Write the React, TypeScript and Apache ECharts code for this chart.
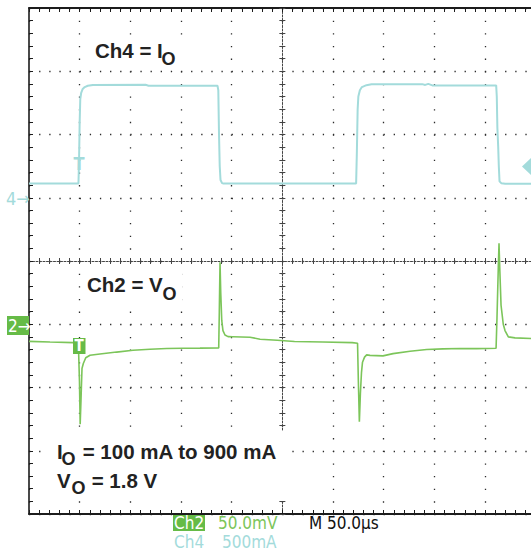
import React, { useEffect, useRef } from "react";
import * as echarts from "echarts";

// Horizontal: 50 µs/div, 10 divisions
const timeMin = 0;
const timeMax = 500;
const timeStep = 50;
// Ch4 (current): 500 mA/div, ground marker one division above centre
const ch4Min = -2500;
const ch4Max = 1500;
const ch4Step = 500;
// Ch2 (voltage, AC): 50 mV/div, ground marker one division below centre
const ch2Min = -150;
const ch2Max = 250;
const ch2Step = 50;

// Ch4 = IO (mA) vs time (µs)
const ch4Time = [
  0, 48.8, 49.4, 50.0, 50.6, 51.5, 53, 55, 58, 63, 115, 118, 186, 186.8, 187.5, 188.2, 189, 190.5, 192,
  322.8, 323.5, 324.3, 325, 326.5, 328.5, 333, 338, 388, 391, 394, 398, 461, 461.6, 462.2, 463, 463.6,
  464.3, 466, 470, 500,
];
const ch4Current = [
  112, 112, 300, 600, 780, 830, 860, 875, 885, 892, 893, 886, 886, 850, 500, 250, 140, 116, 112,
  112, 350, 700, 800, 850, 875, 890, 898, 898, 892, 900, 888, 888, 800, 550, 400, 250,
  130, 115, 110, 110,
];

// Ch2 = VO deviation (mV) vs time (µs)
const ch2Time = [
  0, 20.7, 43.4, 48.7, 49.8, 50.5, 51.3, 52.3, 53.6, 56, 60.2, 70, 86.5, 102.6, 119.4, 135.9, 152, 168.7,
  187.2, 187.8, 188.5, 189.2, 190.2, 191.4, 193.4, 196.4, 201.3, 218.1, 228, 245, 262, 290, 319,
  324.2, 325, 326, 327, 328.1, 329.1, 331.1, 333.2, 336.5, 349.3, 359.2, 376, 392.4, 408.5, 425.3, 441.8,
  460.9, 461.8, 463.1, 463.8, 464.5, 465.8, 468, 469.7, 473, 479.6, 495.4, 500,
];
const ch2Voltage = [
  -13.5, -14.0, -14.5, -14.7, -45, -79, -60, -35, -31, -26.5, -24.5, -23.5, -22, -20.6, -19.8, -19.2, -19.0, -18.9,
  -18.7, 10, 49, 25, 3, -5, -8.5, -9.8, -9.9, -10.3, -11.8, -12.6, -13.6, -14.0, -14.5,
  -15, -45, -77, -55, -38, -30, -26, -24.2, -24.6, -25, -23.2, -21.3, -20.0, -19.5, -19.2, -19.3,
  -19, 5, 45, 64, 45, 15, 0, -5, -10, -10.8, -11.3, -11.4,
];

const CYAN = "#a3dbdb";
const GREEN = "#7cc55a";
const GREEN_BOX = "#66bb47";
const DOT = "#2b2b2b";
const BORDER = "#1c1c1c";
const BOLD = "Liberation Sans, Arial, Helvetica, sans-serif";
const SCOPE = "'DejaVu Sans Condensed', 'Liberation Sans Narrow', 'Arial Narrow', 'DejaVu Sans', sans-serif";

const zip = (xs: number[], ys: number[]) => xs.map((x, i) => [x, ys[i]]);

const txt = (text: string, x: number, y: number, size: number, fill: string, family: string, weight = "bold") => ({
  type: "text",
  x,
  y,
  z: 20,
  style: {
    text,
    fill,
    fontSize: size,
    fontWeight: weight,
    fontFamily: family,
    align: "left",
    verticalAlign: "middle",
    textAlign: "left",
    textVerticalAlign: "middle",
  },
});

const whiteBox = (x: number, y: number, w: number, h: number) => ({
  type: "rect",
  z: 15,
  shape: { x, y, width: w, height: h },
  style: { fill: "#ffffff" },
});

export default function App() {
  const ref = useRef<HTMLDivElement>(null);

  useEffect(() => {
    if (!ref.current) return;
    const chart = echarts.init(ref.current, undefined, { renderer: "svg" });

    const gridW = 506.7;
    const gridH = 506;

    const xCommon = {
      type: "value",
      min: timeMin,
      max: timeMax,
      interval: timeStep,
      axisLabel: { show: false },
      splitLine: { show: false },
      minorSplitLine: { show: false },
    };
    const yCh4Common = {
      type: "value",
      min: ch4Min,
      max: ch4Max,
      interval: ch4Step,
      axisLabel: { show: false },
      splitLine: { show: false },
      minorSplitLine: { show: false },
    };

    const borderTicks = (len: number, color: string) => ({
      axisTick: { show: true, inside: true, length: len, lineStyle: { color, width: 1 } },
      minorTick: { show: true, splitNumber: 5, length: len, lineStyle: { color, width: 1 } },
    });
    const centreTicks = (inside: boolean) => ({
      axisTick: { show: true, inside, length: 3, lineStyle: { color: "#444", width: 1 } },
      minorTick: { show: true, splitNumber: 5, length: 3, lineStyle: { color: "#444", width: 1 } },
    });

    chart.setOption({
      animation: false,
      backgroundColor: "#ffffff",
      grid: {
        left: 29,
        top: 8,
        width: gridW,
        height: gridH,
        containLabel: false,
        outerBoundsMode: "none",
      },
      xAxis: [
        {
          ...xCommon,
          position: "bottom",
          axisLine: { show: true, onZero: false, lineStyle: { color: BORDER, width: 2 } },
          ...borderTicks(4, BORDER),
          splitLine: { show: true, lineStyle: { color: DOT, width: 1.3, type: [1.3, 11.35] } },
        },
        {
          ...xCommon,
          position: "top",
          axisLine: { show: true, onZero: false, lineStyle: { color: BORDER, width: 1.8 } },
          ...borderTicks(4, BORDER),
        },
        {
          ...xCommon,
          position: "bottom",
          offset: -gridH / 2,
          axisLine: { show: true, onZero: false, lineStyle: { color: "#444", width: 1, type: [2, 1.5] } },
          ...centreTicks(true),
        },
        {
          ...xCommon,
          position: "bottom",
          offset: -gridH / 2,
          axisLine: { show: false, onZero: false },
          ...centreTicks(false),
        },
      ],
      yAxis: [
        {
          ...yCh4Common,
          position: "left",
          axisLine: { show: true, onZero: false, lineStyle: { color: BORDER, width: 1.6 } },
          ...borderTicks(4, BORDER),
          splitLine: { show: true, lineStyle: { color: DOT, width: 1.3, type: [1.3, 8.83] } },
        },
        {
          type: "value",
          min: ch2Min,
          max: ch2Max,
          interval: ch2Step,
          position: "right",
          axisLabel: { show: false },
          axisLine: { show: false, onZero: false },
          axisTick: { show: false },
          splitLine: { show: false },
        },
        {
          ...yCh4Common,
          position: "left",
          offset: -gridW / 2,
          axisLine: { show: true, onZero: false, lineStyle: { color: "#444", width: 1, type: [2, 1.5] } },
          ...centreTicks(true),
        },
        {
          ...yCh4Common,
          position: "left",
          offset: -gridW / 2,
          axisLine: { show: false, onZero: false },
          ...centreTicks(false),
        },
      ],
      series: [
        {
          name: "Ch4",
          type: "line",
          xAxisIndex: 0,
          yAxisIndex: 0,
          data: zip(ch4Time, ch4Current),
          symbol: "none",
          showSymbol: false,
          lineStyle: { color: CYAN, width: 2 },
          z: 3,
        },
        {
          name: "Ch2",
          type: "line",
          xAxisIndex: 0,
          yAxisIndex: 1,
          data: zip(ch2Time, ch2Voltage),
          symbol: "none",
          showSymbol: false,
          lineStyle: { color: GREEN, width: 1.6 },
          z: 4,
        },
      ],
      graphic: [
        // annotation boxes
        whiteBox(88, 36, 96, 34),
        whiteBox(82, 271, 100, 34),
        whiteBox(42, 431, 248, 70),
        txt("Ch4 = I", 95, 50.5, 20.5, "#222222", BOLD),
        txt("O", 161.5, 58.5, 18, "#222222", BOLD),
        txt("Ch2 = V", 87, 284.5, 20.5, "#222222", BOLD),
        txt("O", 162.5, 293.5, 18, "#222222", BOLD),
        txt("I", 57, 451, 20.5, "#222222", BOLD),
        txt("O", 61.5, 458.5, 18, "#222222", BOLD),
        txt(" = 100 mA to 900 mA", 77, 451, 20.5, "#222222", BOLD),
        txt("V", 57, 480.5, 20.5, "#222222", BOLD),
        txt("O", 71.5, 488, 18, "#222222", BOLD),
        txt(" = 1.8 V", 86, 480.5, 20.5, "#222222", BOLD),
        // channel ground markers
        txt("4→", 6, 198.5, 18, CYAN, SCOPE, "normal"),
        {
          type: "rect",
          z: 18,
          shape: { x: 7, y: 316, width: 22, height: 19 },
          style: { fill: GREEN_BOX },
        },
        txt("2→", 8, 325.5, 17, "#ffffff", SCOPE, "normal"),
        // trigger markers
        txt("T", 73.5, 163, 18, CYAN, SCOPE, "bold"),
        {
          type: "rect",
          z: 18,
          shape: { x: 73, y: 338, width: 12.5, height: 16 },
          style: { fill: GREEN_BOX },
        },
        txt("T", 74.5, 346, 15, "#ffffff", SCOPE, "bold"),
        {
          type: "polygon",
          z: 18,
          shape: { points: [[531, 158], [522, 166.5], [531, 175]] },
          style: { fill: CYAN },
        },
        // readouts
        {
          type: "rect",
          z: 18,
          shape: { x: 173, y: 515, width: 32, height: 16 },
          style: { fill: GREEN_BOX },
        },
        txt("Ch2", 174, 523, 17, "#ffffff", SCOPE, "normal"),
        txt("50.0mV", 218, 523, 17, GREEN, SCOPE, "normal"),
        txt("M 50.0µs", 309, 523, 17, "#111111", SCOPE, "normal"),
        txt("Ch4", 174, 542, 17, CYAN, SCOPE, "normal"),
        txt("500mA", 222, 542, 17, CYAN, SCOPE, "normal"),
      ],
    });

    return () => chart.dispose();
  }, []);

  return (
    <div
      ref={ref}
      style={{ position: "fixed", left: 0, top: 0, width: 540, height: 552, background: "#ffffff" }}
    />
  );
}
